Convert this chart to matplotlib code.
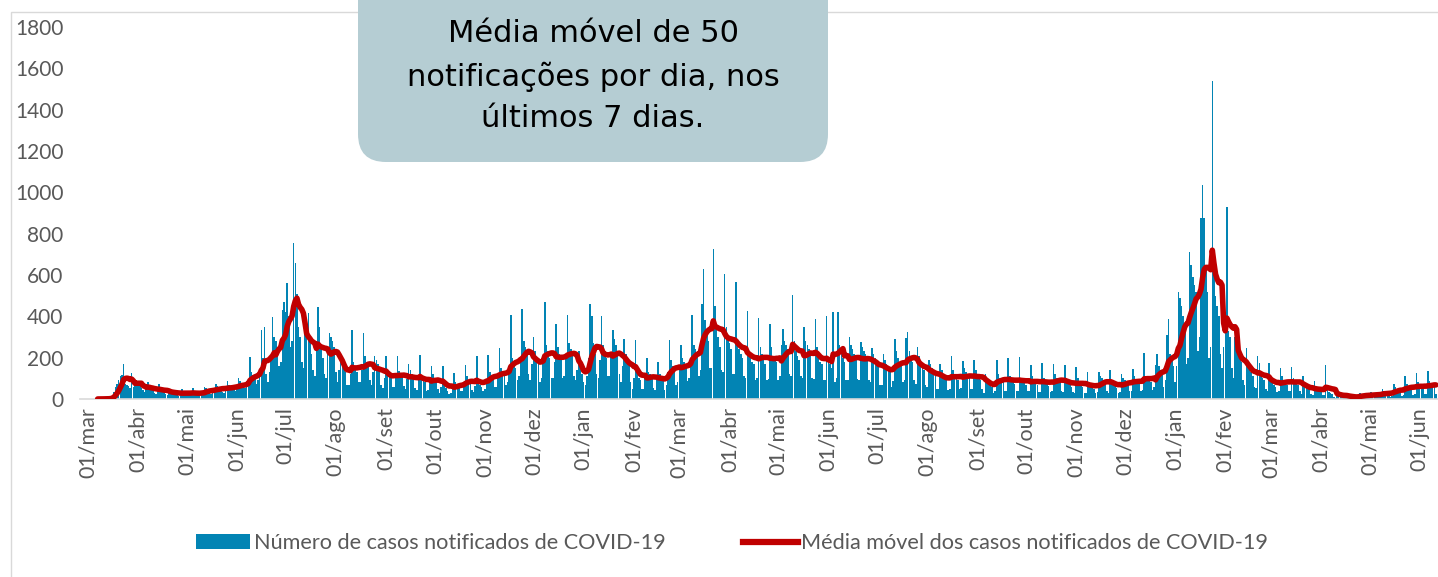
"""
Casos notificados de COVID-19 por dia e media movel de 7 dias
"""

### Import modules
import numpy as np
import pandas as pd
import matplotlib
matplotlib.use('Agg')
import matplotlib.pyplot as plt
import matplotlib.dates as mdates
from matplotlib.patches import FancyBboxPatch, Rectangle, Patch
from matplotlib.lines import Line2D
from matplotlib.transforms import IdentityTransform

plt.rcParams['font.family'] = ['Lato', 'DejaVu Sans']

### Daily notified cases (one row = one week, Sun..Sat)
cases_2020 = [
    0, 0, 0, 0, 0, 1, 0,
    0, 0, 1, 2, 1, 3, 2,
    5, 15, 35, 60, 75, 90, 110,
    116, 170, 75, 70, 65, 55, 124,
    60, 85, 75, 70, 65, 55, 45,
    35, 55, 80, 60, 50, 45, 30,
    25, 45, 75, 50, 40, 35, 25,
    20, 30, 50, 35, 30, 28, 17,
    15, 25, 48, 35, 30, 25, 18,
    18, 28, 52, 30, 28, 24, 16,
    22, 35, 60, 55, 45, 38, 25,
    28, 45, 75, 65, 55, 50, 32,
    30, 50, 85, 70, 60, 55, 42,
    40, 60, 100, 85, 75, 65, 51,
    60, 90, 203, 130, 115, 100, 72,
    90, 130, 334, 200, 349, 120, 80,
    130, 190, 397, 300, 280, 240, 160,
    180, 430, 470, 420, 561, 400, 250,
    280, 755, 660, 510, 350, 300, 180,
    150, 423, 300, 415, 280, 220, 140,
    110, 250, 445, 350, 250, 200, 120,
    100, 230, 320, 300, 280, 250, 130,
    80, 140, 220, 200, 150, 130, 70,
    70, 120, 334, 180, 150, 130, 80,
    80, 140, 320, 210, 180, 170, 90,
    70, 130, 210, 190, 170, 150, 70,
    55, 100, 210, 130, 120, 110, 60,
    60, 105, 210, 135, 125, 110, 65,
    50, 95, 170, 140, 120, 100, 55,
    45, 90, 213, 100, 95, 80, 40,
    45, 85, 160, 120, 100, 85, 50,
    30, 60, 160, 70, 55, 40, 25,
    30, 55, 125, 80, 70, 60, 40,
    40, 70, 165, 110, 90, 80, 45,
    35, 65, 210, 80, 70, 60, 40,
    50, 95, 215, 130, 110, 100, 60,
    60, 110, 247, 150, 130, 110, 70,
    80, 150, 407, 200, 180, 150, 90,
    110, 200, 435, 280, 250, 220, 120,
    90, 170, 300, 230, 200, 180, 80,
    100, 200, 470, 260, 230, 200, 100,
    100, 180, 363, 250, 220, 200, 100,
    110, 200, 407, 270, 240, 210, 110,
    90, 140, 230, 190, 120]

cases_2021 = [
    80, 70,
    110, 200, 460, 400, 270, 220, 120,
    100, 190, 402, 260, 230, 200, 110,
    110, 210, 334, 290, 260, 230, 120,
    80, 160, 290, 220, 190, 170, 80,
    50, 100, 286, 130, 100, 90, 50,
    50, 95, 200, 130, 120, 100, 55,
    45, 90, 180, 120, 110, 90, 45,
    70, 130, 285, 190, 160, 150, 70,
    80, 150, 260, 200, 180, 170, 85,
    100, 200, 405, 260, 240, 220, 110,
    140, 460, 630, 380, 330, 280, 150,
    150, 726, 450, 350, 300, 250, 140,
    130, 605, 350, 300, 270, 240, 120,
    120, 566, 280, 240, 220, 200, 110,
    100, 428, 230, 200, 180, 170, 90,
    100, 390, 250, 220, 190, 170, 90,
    95, 363, 250, 210, 190, 180, 90,
    110, 260, 340, 280, 260, 240, 120,
    110, 503, 280, 230, 210, 190, 110,
    100, 349, 280, 260, 240, 220, 100,
    95, 387, 250, 200, 180, 170, 90,
    90, 400, 200, 170, 150, 423, 80,
    100, 423, 260, 220, 200, 180, 90,
    90, 300, 260, 240, 220, 200, 95,
    90, 275, 250, 230, 220, 210, 90,
    80, 245, 220, 200, 180, 160, 70,
    70, 220, 190, 170, 150, 130, 60,
    85, 290, 230, 200, 180, 160, 80,
    90, 294, 323, 230, 200, 180, 90,
    75, 250, 210, 180, 160, 140, 70,
    60, 190, 170, 150, 130, 110, 50,
    50, 170, 140, 120, 100, 90, 45,
    50, 210, 140, 120, 100, 90, 50,
    55, 185, 150, 130, 110, 100, 50,
    50, 190, 140, 120, 110, 90, 50,
    30, 120, 100, 80, 70, 60, 30,
    40, 190, 120, 100, 90, 80, 40,
    40, 198, 110, 90, 85, 75, 40,
    40, 202, 100, 85, 80, 70, 40,
    40, 165, 110, 90, 80, 70, 35,
    35, 175, 100, 85, 75, 65, 35,
    40, 170, 120, 100, 90, 80, 40,
    35, 166, 100, 80, 70, 60, 35,
    30, 155, 100, 80, 70, 60, 30,
    30, 130, 80, 70, 60, 50, 30,
    35, 131, 110, 100, 90, 80, 40,
    30, 140, 90, 75, 65, 55, 30,
    35, 123, 100, 90, 85, 75, 40,
    40, 145, 110, 95, 90, 80, 40,
    45, 225, 110, 100, 90, 80, 45,
    60, 164, 218, 160, 140, 120, 60,
    90, 310, 386, 220, 190, 160]

cases_2022 = [
    80,
    160, 518, 487, 450, 400, 350, 170,
    200, 711, 650, 591, 550, 520, 230,
    300, 876, 1036, 876, 620, 520, 200,
    250, 1539, 600, 500, 450, 400, 220,
    150, 250, 340, 929, 330, 300, 150,
    100, 300, 250, 220, 200, 180, 90,
    70, 245, 170, 150, 130, 110, 60,
    55, 208, 175, 120, 100, 90, 50,
    40, 175, 100, 80, 70, 60, 35,
    40, 150, 110, 90, 80, 70, 40,
    40, 157, 100, 90, 80, 70, 40,
    25, 110, 70, 60, 50, 45, 25,
    20, 87, 60, 50, 45, 40, 20,
    20, 163, 50, 35, 30, 25, 12,
    5, 30, 25, 20, 18, 15, 8,
    3, 18, 15, 12, 10, 8, 4,
    6, 30, 25, 20, 18, 15, 8,
    8, 35, 30, 25, 22, 20, 10,
    10, 50, 40, 30, 28, 25, 12,
    15, 75, 60, 50, 45, 40, 15,
    20, 110, 75, 65, 60, 50, 20,
    25, 125, 80, 70, 60, 50, 25,
    25, 137, 85, 75, 70, 60, 25]

start_date = '2020-03-01'
month_names = ['jan', 'fev', 'mar', 'abr', 'mai', 'jun',
               'jul', 'ago', 'set', 'out', 'nov', 'dez']
yticks = np.arange(0, 1801, 200)

label_bars = 'Número de casos notificados de COVID-19'
label_line = 'Média móvel dos casos notificados de COVID-19'
note = 'Média móvel de 50\nnotificações por dia, nos\núltimos 7 dias.'

### Series and 7-day moving average
values = cases_2020 + cases_2021 + cases_2022
cases = pd.Series(values, index=pd.date_range(start_date, periods=len(values), freq='D'))
mm7 = cases.rolling(7).mean()

###############################################################################
### Plot
W, H = 1438, 577
fig = plt.figure(figsize=(W/100, H/100), dpi=100)

# chart area border
fig.add_artist(Rectangle((10.5, -5), 1440, 570, transform=IdentityTransform(),
                         fill=False, edgecolor='#D9D9D9', lw=1, zorder=0))

ax = fig.add_axes([80/W, 1 - 399/H, 1 - 80/W, (399 - 27)/H])
ax.bar(cases.index, cases.values, width=0.95, color='#0284B4', lw=0, zorder=2)
ax.plot(mm7.index, mm7.values, color='#C00000', lw=4,
        solid_capstyle='round', solid_joinstyle='round', zorder=3)

t0 = mdates.date2num(pd.Timestamp(start_date))
ax.set_xlim(t0 - 4.9, t0 + 833.3)
ax.set_ylim(0, 1800)
ax.set_yticks(yticks)
ax.set_yticklabels([str(v) for v in yticks])

mticks = pd.date_range(start_date, cases.index[-1], freq='MS')
ax.set_xticks(mticks)
ax.set_xticklabels(['01/' + month_names[d.month - 1] for d in mticks], rotation=90)

for s in ['top', 'right', 'left']:
    ax.spines[s].set_visible(False)
ax.spines['bottom'].set_color('#D9D9D9')
ax.spines['bottom'].set_linewidth(1.2)
ax.tick_params(axis='y', length=0, pad=12, labelsize=15, labelcolor='#595959')
ax.tick_params(axis='x', length=0, pad=6, labelsize=15.5, labelcolor='#595959')

# legend
handles = [Patch(facecolor='#0284B4', edgecolor='none'),
           Line2D([], [], color='#C00000', lw=4.5)]
fig.legend(handles, [label_bars, label_line], loc='center', ncol=2,
           bbox_to_anchor=(732/W, 1 - 543/H), frameon=False, fontsize=15.6,
           labelcolor='#595959', handlelength=2.5, handleheight=0.65,
           handletextpad=0.15, columnspacing=3.6)

# annotation box
fig.add_artist(FancyBboxPatch((358, H - 162), 470, 200,
                              boxstyle='round,pad=0,rounding_size=28',
                              transform=IdentityTransform(),
                              facecolor='#B5CDD3', edgecolor='none', zorder=5))
fig.text(593/W, 1 - 76/H, note, ha='center', va='center', fontsize=22,
         family='DejaVu Sans', linespacing=1.55, color='black', zorder=6)

plt.savefig('out.png', dpi=100)
